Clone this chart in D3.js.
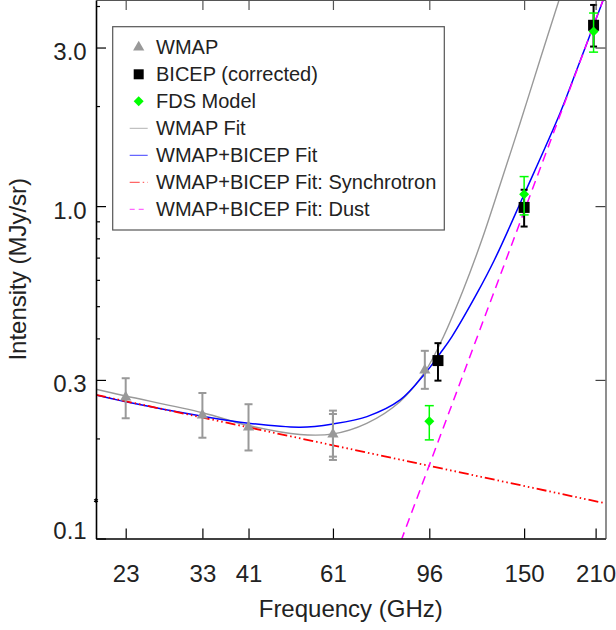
<!DOCTYPE html>
<html><head><meta charset="utf-8">
<script src="https://cdn.jsdelivr.net/npm/d3@7"></script>
<style>
html,body{margin:0;padding:0;background:#fff;}
svg{display:block;}
</style></head><body>
<svg id="chart" width="616" height="630"></svg>
<script>
// ---------- data ----------
const xTickValues = [23, 33, 41, 61, 96, 150, 210];
const xTickLabels = ["23", "33", "41", "61", "96", "150", "210"];
const yTickValues = [0.1, 0.3, 1, 3];
const yTickLabels = ["0.1", "0.3", "1.0", "3.0"];
const yMinorTicks = [0.2, 0.4, 0.5, 0.6, 0.7, 0.8, 0.9, 2, 4];

const wmapFreq  = [23, 33, 41, 61, 94];
const wmapValue = [0.266, 0.235, 0.216, 0.206, 0.321];
const wmapLow   = [0.230, 0.201, 0.184, 0.1723, 0.282];
const wmapHigh  = [0.3035, 0.274, 0.2535, 0.2425, 0.367];
const wmapLow2  = [null, null, null, 0.1763, null];
const wmapHigh2 = [null, null, null, 0.2369, null];

const bicepFreq  = [100, 150, 208];
const bicepValue = [0.343, 0.991, 3.50];
const bicepLow   = [0.2985, 0.868, 3.02];
const bicepHigh  = [0.387, 1.12, 4.03];

const fdsFreq  = [96, 150, 208];
const fdsValue = [0.2253, 1.086, 3.35];
const fdsLow   = [0.198, 0.941, 2.906];
const fdsHigh  = [0.251, 1.227, 3.81];

const wmapFitFreq  = [20, 23.0, 33.04, 40.95, 52.2, 61.1, 71.5, 83.6, 94.1, 102.6, 112.6, 122.9, 133.9, 147.2, 161.6, 176.8];
const wmapFitValue = [0.2812, 0.2684, 0.2390, 0.2188, 0.2056, 0.2065, 0.2221, 0.2580, 0.3176, 0.4047, 0.5593, 0.7906, 1.1576, 1.7787, 2.7526, 4.17];

const jointFitFreq  = [20, 23, 33, 41, 52.3, 61, 71.6, 83.7, 94.2, 101.1, 106.8, 120.2, 130.4, 149.4, 177.6, 192.1, 220];
const jointFitValue = [0.2704, 0.258, 0.2333, 0.2222, 0.2162, 0.2212, 0.2327, 0.2611, 0.3143, 0.3609, 0.405, 0.547, 0.6885, 1.0705, 1.902, 2.568, 4.35];

const syncFreq  = [20, 220];
const syncValue = [0.2704, 0.1276];

const dustFreq  = [80, 220];
const dustValue = [0.081, 4.36];

const strayFreq = [20];
const strayValue = [0.13];

const legendLabels = ["WMAP", "BICEP (corrected)", "FDS Model", "WMAP Fit",
  "WMAP+BICEP Fit", "WMAP+BICEP Fit: Synchrotron", "WMAP+BICEP Fit: Dust"];

// ---------- setup ----------
const FONT = '"Liberation Sans", Arial, Helvetica, sans-serif';
const W = 616, H = 630;
const plot = {left: 96, right: 605.5, top: 0, bottom: 538.5};
const x = d3.scaleLog().domain([20, 220]).range([plot.left, plot.right]);
const y = d3.scaleLog().domain([0.1, 4.17]).range([plot.bottom, plot.top]);

const svg = d3.select("#chart");
svg.append("rect").attr("width", W).attr("height", H).attr("fill", "#fff");
svg.append("defs").append("clipPath").attr("id", "clip")
  .append("rect").attr("x", plot.left).attr("y", plot.top)
  .attr("width", plot.right - plot.left).attr("height", plot.bottom - plot.top);

const GRAY = "#999999", BLUE = "#0000ff", RED = "#ff0000", MAG = "#ff00ff", GREEN = "#00ff00";
const SYNC_DASH = "10,3,1.5,3,1.5,3,1.5,3";
const DUST_DASH = "9,6";

// ---------- curves ----------
const curves = svg.append("g").attr("clip-path", "url(#clip)");
const smooth = d3.line().x(d => x(d[0])).y(d => y(d[1])).curve(d3.curveCatmullRom.alpha(0.5));
const straight = d3.line().x(d => x(d[0])).y(d => y(d[1]));

curves.append("path").datum(d3.zip(wmapFitFreq, wmapFitValue))
  .attr("d", smooth).attr("fill", "none").attr("stroke", GRAY).attr("stroke-width", 1.4);
curves.append("path").datum(d3.zip(jointFitFreq, jointFitValue))
  .attr("d", smooth).attr("fill", "none").attr("stroke", BLUE).attr("stroke-width", 1.5);
curves.append("path").datum(d3.zip(syncFreq, syncValue))
  .attr("d", straight).attr("fill", "none").attr("stroke", RED).attr("stroke-width", 1.8)
  .attr("stroke-dasharray", SYNC_DASH);
curves.append("path").datum(d3.zip(dustFreq, dustValue))
  .attr("d", straight).attr("fill", "none").attr("stroke", MAG).attr("stroke-width", 1.5)
  .attr("stroke-dasharray", DUST_DASH);

// ---------- error bars & points ----------
function errorBars(g, freq, lo, hi, color, width, capW) {
  freq.forEach((f, i) => {
    if (lo[i] == null || hi[i] == null) return;
    const cx = x(f), y0 = y(lo[i]), y1 = y(hi[i]);
    g.append("line").attr("x1", cx).attr("x2", cx).attr("y1", y0).attr("y2", y1)
      .attr("stroke", color).attr("stroke-width", width);
    [y0, y1].forEach(yy => g.append("line").attr("x1", cx - capW / 2).attr("x2", cx + capW / 2)
      .attr("y1", yy).attr("y2", yy).attr("stroke", color).attr("stroke-width", width));
  });
}
const pts = svg.append("g");
// WMAP
errorBars(pts, wmapFreq, wmapLow, wmapHigh, GRAY, 2, 8);
errorBars(pts, wmapFreq, wmapLow2, wmapHigh2, GRAY, 2, 8);
pts.selectAll(".wmap").data(d3.zip(wmapFreq, wmapValue)).join("path")
  .attr("transform", d => `translate(${x(d[0])},${y(d[1])})`)
  .attr("d", d3.symbol(d3.symbolTriangle).size(55)).attr("fill", GRAY);
// BICEP
errorBars(pts, bicepFreq, bicepLow, bicepHigh, "#000", 2, 7);
pts.selectAll(".bicep").data(d3.zip(bicepFreq, bicepValue)).join("path")
  .attr("transform", d => `translate(${x(d[0])},${y(d[1])})`)
  .attr("d", d3.symbol(d3.symbolSquare).size(121)).attr("fill", "#000");
// FDS
errorBars(pts, fdsFreq, fdsLow, fdsHigh, GREEN, 1.5, 9);
pts.selectAll(".fds").data(d3.zip(fdsFreq, fdsValue)).join("path")
  .attr("transform", d => `translate(${x(d[0])},${y(d[1])}) rotate(45)`)
  .attr("d", d3.symbol(d3.symbolSquare).size(50)).attr("fill", GREEN);
// stray marker on the axis
pts.selectAll(".stray").data(d3.zip(strayFreq, strayValue)).join("path")
  .attr("transform", d => `translate(${x(d[0])},${y(d[1])})`)
  .attr("d", d3.symbol(d3.symbolAsterisk || d3.symbolCross).size(14))
  .attr("fill", "none").attr("stroke", "#000").attr("stroke-width", 1.2);

// ---------- axes ----------
function styleAxis(g, color, domW) {
  g.attr("font-family", FONT).attr("font-size", 24);
  g.select(".domain").attr("stroke", color).attr("stroke-width", domW);
  g.selectAll(".tick line").attr("stroke", color).attr("stroke-width", 1.2);
  g.selectAll(".tick text").attr("fill", "#222");
}
const gx = svg.append("g").attr("transform", `translate(0,${plot.bottom})`)
  .call(d3.axisBottom(x).tickValues(xTickValues).tickFormat((d, i) => xTickLabels[i])
    .tickSizeInner(-10).tickSizeOuter(0).tickPadding(26));
styleAxis(gx, "#000", 1.6);

const gxt = svg.append("g").attr("transform", `translate(0,${plot.top})`)
  .call(d3.axisTop(x).tickValues(xTickValues).tickFormat(() => "")
    .tickSizeInner(-10).tickSizeOuter(0));
styleAxis(gxt, "#555", 1.2);

const gy = svg.append("g").attr("transform", `translate(${plot.left},0)`)
  .call(d3.axisLeft(y).tickValues(yTickValues).tickFormat((d, i) => yTickLabels[i])
    .tickSizeInner(-10).tickSizeOuter(0).tickPadding(9.3));
styleAxis(gy, "#000", 1.6);
gy.selectAll(".tick text").attr("dy", d => d === 0.1 ? "0em" : "0.5em");

const gym = svg.append("g").attr("transform", `translate(${plot.left},0)`)
  .call(d3.axisLeft(y).tickValues(yMinorTicks).tickFormat(() => "")
    .tickSizeInner(-4).tickSizeOuter(0));
gym.select(".domain").remove();
gym.selectAll(".tick line").attr("stroke", "#000").attr("stroke-width", 1.2);

const gyr = svg.append("g").attr("transform", `translate(${plot.right},0)`)
  .call(d3.axisRight(y).tickValues(yTickValues).tickFormat(() => "")
    .tickSizeInner(-10).tickSizeOuter(0));
styleAxis(gyr, "#444", 1.2);

// axis titles
svg.append("text").attr("x", (plot.left + plot.right) / 2).attr("y", 616.5)
  .attr("text-anchor", "middle").attr("font-family", FONT).attr("font-size", 24)
  .attr("fill", "#222").text("Frequency (GHz)");
svg.append("text").attr("transform", `translate(26,${(plot.top + plot.bottom) / 2}) rotate(-90)`)
  .attr("text-anchor", "middle").attr("font-family", FONT).attr("font-size", 24)
  .attr("fill", "#222").text("Intensity (MJy/sr)");

// ---------- legend ----------
const lg = svg.append("g");
lg.append("rect").attr("x", 112.7).attr("y", 26.7).attr("width", 331.6).attr("height", 203.3)
  .attr("fill", "#fff").attr("stroke", "#555").attr("stroke-width", 1.2);
const symX = 138.7, textX = 156, base0 = 54.3, step = 27;
legendLabels.forEach((lab, i) => {
  const by = base0 + i * step, cy = by - 7;
  lg.append("text").attr("x", textX).attr("y", by).attr("font-family", FONT)
    .attr("font-size", 20).attr("fill", "#222").text(lab);
  const s = lg.append("g").attr("transform", `translate(${symX},${cy})`);
  if (i === 0) s.append("path").attr("d", d3.symbol(d3.symbolTriangle).size(55)).attr("fill", GRAY);
  if (i === 1) s.append("path").attr("d", d3.symbol(d3.symbolSquare).size(100)).attr("fill", "#000");
  if (i === 2) s.append("path").attr("transform", "rotate(45)").attr("d", d3.symbol(d3.symbolSquare).size(50)).attr("fill", GREEN);
  const styles = [null, null, null,
    {c: GRAY, d: null}, {c: BLUE, d: null}, {c: RED, d: SYNC_DASH}, {c: MAG, d: "5,4"}];
  const st = styles[i];
  if (st) s.append("line").attr("x1", -9).attr("x2", 9).attr("y1", 0).attr("y2", 0)
    .attr("stroke", st.c).attr("stroke-width", 1).attr("opacity", 0.75)
    .attr("stroke-dasharray", st.d);
});
</script>
</body></html>
